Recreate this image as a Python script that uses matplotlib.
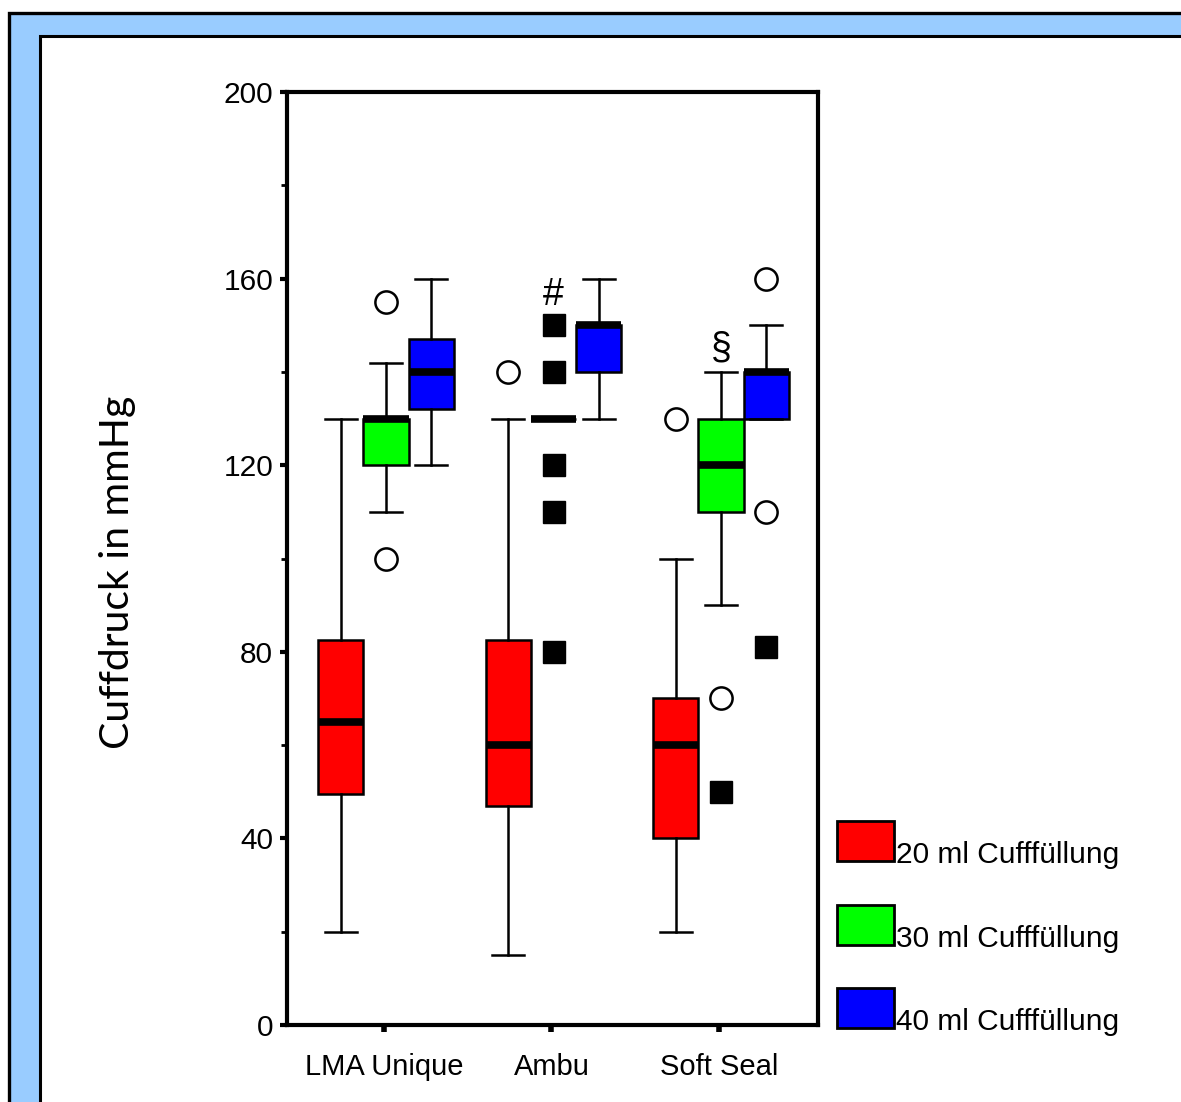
import matplotlib
matplotlib.use("Agg")
import matplotlib.pyplot as plt
from matplotlib.patches import Rectangle
import numpy as np

W, H = 1181, 1102

devices = ["LMA Unique", "Ambu", "Soft Seal"]
series = ["20 ml Cufffüllung", "30 ml Cufffüllung", "40 ml Cufffüllung"]
colors = ["#FF0000", "#00FF00", "#0000FF"]

# 20 ml cuff filling
q1_20 = [49.5, 47, 40]
med_20 = [65, 60, 60]
q3_20 = [82.5, 82.5, 70]
lo_20 = [20, 15, 20]
hi_20 = [130, 130, 100]
out_20 = [[], [140], [130]]
ext_20 = [[], [], []]

# 30 ml cuff filling
q1_30 = [120, 130, 110]
med_30 = [130, 130, 120]
q3_30 = [130, 130, 130]
lo_30 = [110, 130, 90]
hi_30 = [142, 130, 140]
out_30 = [[155, 100], [], [70]]
ext_30 = [[], [150, 140, 120, 110, 80], [50]]

# 40 ml cuff filling
q1_40 = [132, 140, 130]
med_40 = [140, 150, 140]
q3_40 = [147, 150, 140]
lo_40 = [120, 130, 130]
hi_40 = [160, 160, 150]
out_40 = [[], [], [160, 110]]
ext_40 = [[], [], [81]]

marks = [("#", 1, 156.5), ("§", 2, 145)]

all_stats = [
    (q1_20, med_20, q3_20, lo_20, hi_20, out_20, ext_20),
    (q1_30, med_30, q3_30, lo_30, hi_30, out_30, ext_30),
    (q1_40, med_40, q3_40, lo_40, hi_40, out_40, ext_40),
]

plt.rcParams['font.family'] = ['Liberation Sans', 'DejaVu Sans']

fig = plt.figure(figsize=(W / 100, H / 100), dpi=100)
fig.patch.set_facecolor("white")

# decorative frame
fig.add_artist(Rectangle((9 / W, -0.1), 1.2, (H - 13) / H + 0.1, transform=fig.transFigure,
                         facecolor="#99CCFF", edgecolor="black", lw=2.4, zorder=-20))
fig.add_artist(Rectangle((40 / W, -0.1), 1.2, (H - 35.5) / H + 0.1, transform=fig.transFigure,
                         facecolor="white", edgecolor="black", lw=2.2, zorder=-19))

ax = fig.add_axes([287 / W, (H - 1025) / H, (818 - 287) / W, (1025 - 92) / H])
ax.set_facecolor("none")

x = np.arange(len(devices))
offsets = [-0.27, 0.0, 0.27]
bw = 0.27

for si, (q1, med, q3, lo, hi, out, ext) in enumerate(all_stats):
    stats = []
    for i in range(len(devices)):
        stats.append(dict(q1=q1[i], med=med[i], q3=q3[i], whislo=lo[i], whishi=hi[i],
                          fliers=out[i]))
    pos = x + offsets[si]
    ax.bxp(stats, positions=pos, widths=bw, patch_artist=True, showfliers=True,
           capwidths=0.19,
           boxprops=dict(facecolor=colors[si], edgecolor="black", linewidth=1.8),
           medianprops=dict(color="black", linewidth=5.5, solid_capstyle="butt"),
           whiskerprops=dict(color="black", linewidth=1.8),
           capprops=dict(color="black", linewidth=1.8),
           flierprops=dict(marker="o", markerfacecolor="none", markeredgecolor="black",
                           markersize=16, markeredgewidth=1.8),
           manage_ticks=False)
    for i in range(len(devices)):
        if ext[i]:
            ax.plot([pos[i]] * len(ext[i]), ext[i], "s", color="black", markersize=16,
                    linestyle="none")

for txt, xi, yv in marks:
    ax.text(xi, yv, txt, ha="center", va="center", fontsize=27)

ax.set_xlim(-0.591, 2.579)
ax.set_ylim(0, 200)
ax.set_xticks(x - 0.012)
ax.set_xticklabels(devices, fontsize=21)
ax.set_yticks(np.arange(0, 201, 40))
ax.set_yticks(np.arange(20, 200, 40), minor=True)
ax.tick_params(axis="y", which="major", direction="out", length=5, width=3, labelsize=21.5, pad=5)
ax.tick_params(axis="y", which="minor", direction="out", length=4, width=2)
ax.tick_params(axis="x", direction="out", length=5, width=4, pad=15)
for s in ax.spines.values():
    s.set_linewidth(3)

fig.text(117 / W, (H - 572) / H, "Cuffdruck in mmHg", rotation=90, ha="center", va="center",
         fontsize=29.5, family=["Lato", "DejaVu Sans"])

# legend
leg_tops = [821, 905, 988]
for si in range(3):
    top = leg_tops[si]
    fig.add_artist(Rectangle((837 / W, (H - top - 40) / H), 57 / W, 40 / H,
                             transform=fig.transFigure, facecolor=colors[si],
                             edgecolor="black", lw=2))
    fig.text(896 / W, (H - top - 42) / H, series[si], ha="left", va="baseline", fontsize=21.5)

fig.savefig("out.png", dpi=100, facecolor=fig.get_facecolor())
